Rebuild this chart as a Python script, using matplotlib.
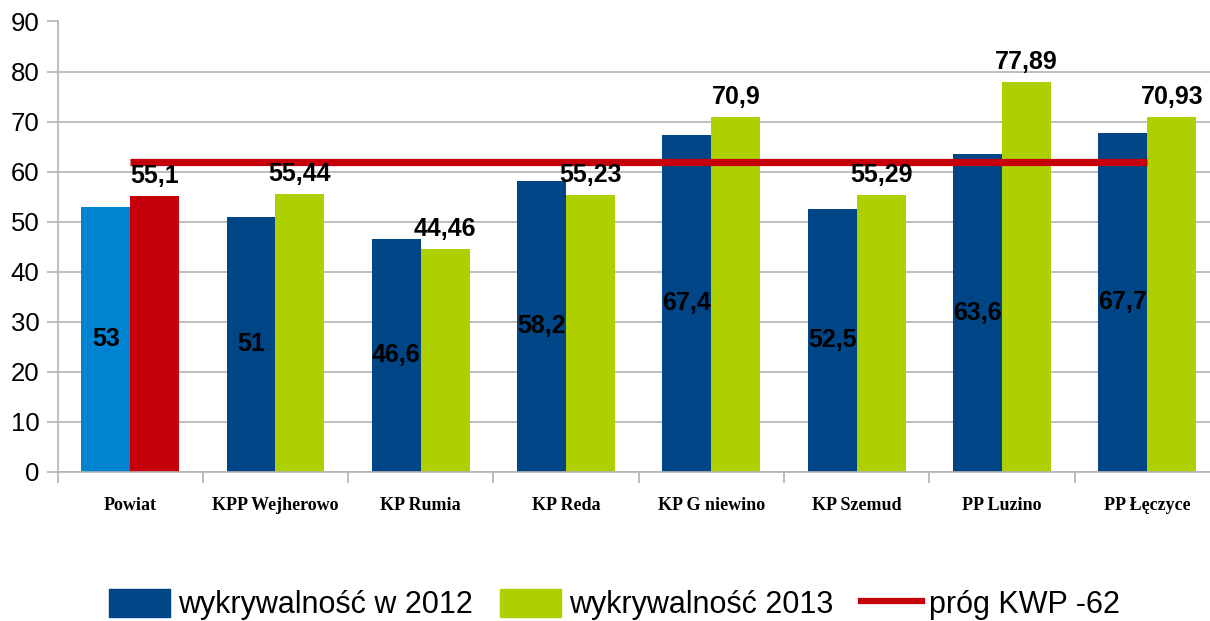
import matplotlib
matplotlib.use('Agg')
import matplotlib.pyplot as plt
import numpy as np
from matplotlib.patches import Patch
from matplotlib.lines import Line2D

categories = ['Powiat', 'KPP Wejherowo', 'KP Rumia', 'KP Reda', 'KP G niewino',
              'KP Szemud', 'PP Luzino', 'PP Łęczyce']
values_2012 = [53, 51, 46.6, 58.2, 67.4, 52.5, 63.6, 67.7]
values_2013 = [55.1, 55.44, 44.46, 55.23, 70.9, 55.29, 77.89, 70.93]
threshold = 62

c2012 = '#004586'
c2013 = '#AECF00'
c_red = '#C5000B'
c_powiat = '#0084D1'

def fmt(v):
    return f'{v:g}'.replace('.', ',')

plt.rcParams['font.family'] = ['Liberation Sans', 'DejaVu Sans']

fig = plt.figure(figsize=(12.1, 6.21), dpi=100)
ax = fig.add_axes([57.5 / 1210, 149.3 / 621, 1162.6 / 1210, 450.2 / 621])

x = np.arange(len(categories))
w = 0.337
colors_2012 = [c_powiat] + [c2012] * (len(categories) - 1)
colors_2013 = [c_red] + [c2013] * (len(categories) - 1)
bars1 = ax.bar(x - w / 2, values_2012, w, color=colors_2012, zorder=2)
bars2 = ax.bar(x + w / 2, values_2013, w, color=colors_2013, zorder=2)
ax.plot([x[0], x[-1]], [threshold, threshold], color=c_red, lw=5.2,
        solid_capstyle='butt', zorder=3)

# 2012 labels inside the bars, 2013 labels above
for b, v in zip(bars1, values_2012):
    ax.text(b.get_x() + b.get_width() / 2, v / 2, fmt(v), ha='center', va='center',
            fontsize=18, fontweight='bold', color='black', zorder=4)
for b, v in zip(bars2, values_2013):
    ax.annotate(fmt(v), (b.get_x() + b.get_width() / 2, v), xytext=(0, 6),
                textcoords='offset points', ha='center', va='bottom',
                fontsize=18, fontweight='bold', color='black', zorder=4)

ax.set_xlim(-0.5, len(categories) - 0.5)
ax.set_ylim(0, 90)
ax.set_yticks(range(0, 91, 10))
ax.yaxis.grid(True, color='#b3b3b3', lw=1.2, zorder=0)
ax.set_axisbelow(True)
ax.tick_params(axis='y', length=8, width=1.2, color='#b3b3b3', labelsize=18.5, pad=5)

ax.set_xticks(x)
ax.set_xticklabels(categories, family='Liberation Serif', fontweight='bold', fontsize=13)
ax.tick_params(axis='x', which='major', length=0, pad=18)
ax.set_xticks(np.arange(-0.5, len(categories)), minor=True)
ax.tick_params(axis='x', which='minor', length=8, width=1.2, color='#b3b3b3')

for s in ['top', 'right']:
    ax.spines[s].set_visible(False)
for s in ['left', 'bottom']:
    ax.spines[s].set_color('#b3b3b3')
    ax.spines[s].set_linewidth(1.2)

handles = [Patch(color=c2012), Patch(color=c2013), Line2D([], [], color=c_red, lw=4.5)]
labels = ['wykrywalność w 2012', 'wykrywalność 2013', 'próg KWP -62']
fig.legend(handles, labels, loc='center', bbox_to_anchor=(0.508, 0.026), ncol=3,
           frameon=False, fontsize=22, handlelength=2.0, handleheight=1.0,
           handletextpad=0.25, columnspacing=0.9)

fig.savefig('out.png', dpi=100)
